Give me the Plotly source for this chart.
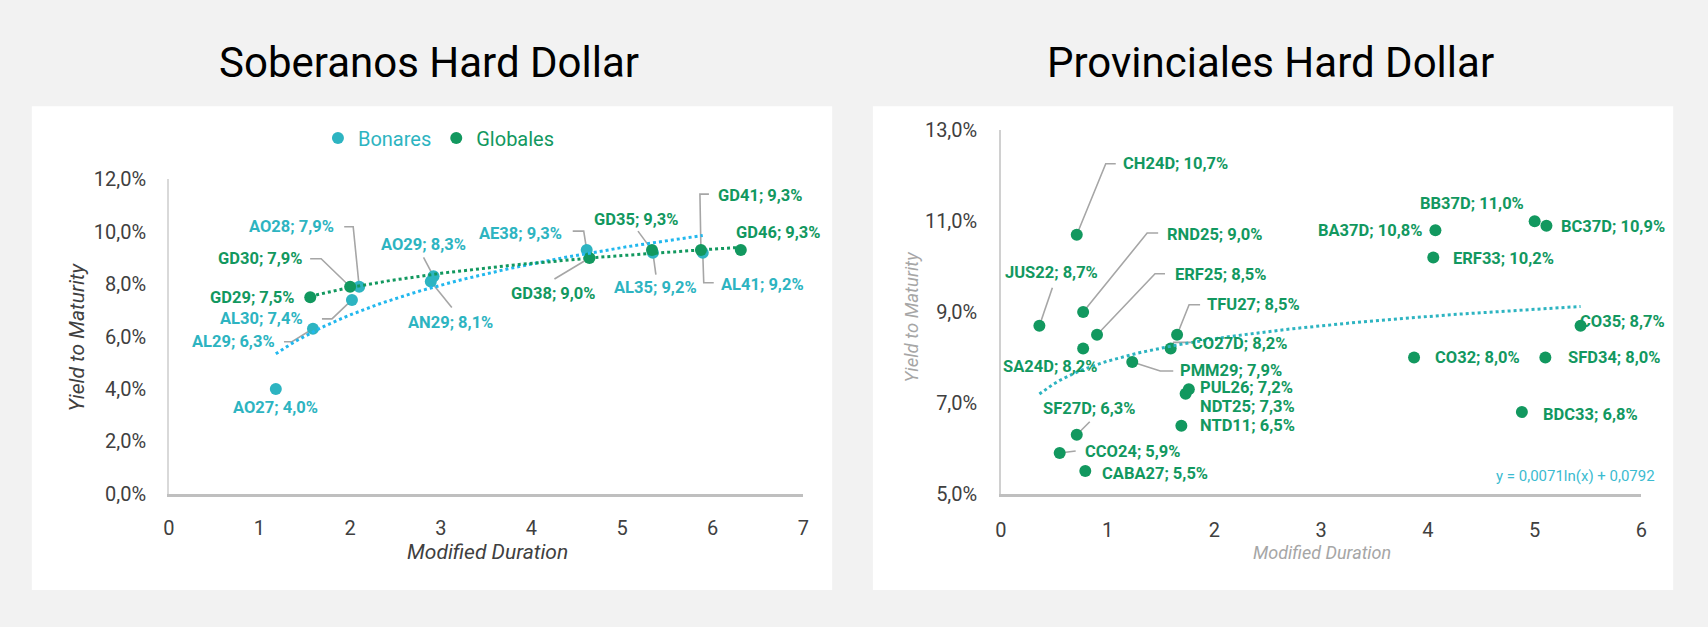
import numpy as np
import plotly.graph_objects as go

# Soberanos Hard Dollar - Bonares
bonares_names = ["AO27", "AL29", "AL30", "AO28", "AN29", "AO29", "AE38", "AL35", "AL41"]
bonares_dur = [1.18, 1.59, 2.02, 2.10, 2.89, 2.92, 4.61, 5.34, 5.89]
bonares_ytm = [4.0, 6.3, 7.4, 7.9, 8.1, 8.3, 9.3, 9.2, 9.2]

# Soberanos Hard Dollar - Globales
globales_names = ["GD29", "GD30", "GD38", "GD35", "GD41", "GD46"]
globales_dur = [1.56, 2.00, 4.64, 5.33, 5.87, 6.31]
globales_ytm = [7.5, 7.9, 9.0, 9.3, 9.3, 9.3]

# Provinciales Hard Dollar
prov_names = ["CH24D", "RND25", "JUS22", "ERF25", "SA24D", "TFU27", "CO27D", "PMM29",
              "PUL26", "NDT25", "NTD11", "SF27D", "CCO24", "CABA27", "BA37D", "BB37D",
              "BC37D", "ERF33", "CO35", "CO32", "SFD34", "BDC33"]
prov_dur = [0.71, 0.77, 0.36, 0.90, 0.77, 1.65, 1.59, 1.23,
            1.73, 1.76, 1.69, 0.71, 0.55, 0.79, 4.07, 5.00,
            5.11, 4.05, 5.43, 3.87, 5.10, 4.88]
prov_ytm = [10.7, 9.0, 8.7, 8.5, 8.2, 8.5, 8.2, 7.9,
            7.2, 7.3, 6.5, 6.3, 5.9, 5.5, 10.8, 11.0,
            10.9, 10.2, 8.7, 8.0, 8.0, 6.8]

# trendline shown on the provincial chart (Excel log fit)
prov_trend_a = 0.0071
prov_trend_b = 0.0792
prov_trend_label = "y = 0,0071ln(x) + 0,0792"

TEAL = "#2DB4C1"
GREEN = "#12985F"
SKY = "#22B8EE"
LEADER = "#a6a6a6"
W, H = 1708, 627

# label centre offsets from the point, in pixels (dx right, dy down)
label_pos = {
    "AO27": (0, 19), "AL29": (-79, 13), "AL30": (-90, 19), "AO28": (-68, -60),
    "AN29": (20, 41), "AO29": (-10, -32), "AE38": (-66, -17), "AL35": (3, 35),
    "AL41": (60, 32), "GD29": (-58, 0), "GD30": (-90, -28), "GD38": (-36, 36),
    "GD35": (-15, -31), "GD41": (60, -55), "GD46": (38, -18),
    "CH24D": (99, -71), "RND25": (132, -78), "JUS22": (12, -53), "ERF25": (123, -60),
    "SA24D": (-33, 18), "TFU27": (76, -30), "CO27D": (69, -5), "PMM29": (99, 8),
    "PUL26": (61, -6), "NDT25": (59, 17), "NTD11": (66, 0), "SF27D": (13, -26),
    "CCO24": (73, -1), "CABA27": (70, 2), "BA37D": (-65, 0), "BB37D": (-63, -18),
    "BC37D": (67, 1), "ERF33": (70, 1), "CO35": (42, -4), "CO32": (63, 0),
    "SFD34": (69, 0), "BDC33": (69, 2),
}

# leader lines: start next to the label, elbow, then to the point (pixels, dy down)
leaders = {
    "AL29": [(-29, 13), (-21, 13)], "AL30": [(-30, 19), (-20, 19)],
    "GD30": [(-40, -28), (-29, -28)], "AO28": [(-15, -60), (-6, -60)],
    "AO29": [(-10, -19)], "AN29": [(21, 26)], "AE38": [(-14, -19), (-3, -19)],
    "GD38": [(-35, 21)], "GD35": [(-14, -19)], "AL35": [(3, 22)],
    "GD41": [(8, -56), (-1, -56)], "AL41": [(11, 30), (1, 30)],
    "CH24D": [(39, -71), (29, -71)], "RND25": [(75, -79), (64, -79)],
    "JUS22": [(13, -38)], "ERF25": [(68, -61), (58, -61)],
    "TFU27": [(23, -30), (12, -30)], "CO27D": [(21, -6), (3, -6)],
    "PMM29": [(41, 9), (28, 9)], "SF27D": [(13, -13)], "CCO24": [(16, -2)],
}


def pct(v):
    return f"{v:.1f}%".replace(".", ",")


def px(x, y):
    return x / W, 1 - y / H


def log_fit(dur, ytm):
    a, b = np.polyfit(np.log(dur), np.array(ytm) / 100, 1)
    return a, b


def trend_curve(dur, a, b):
    xs = np.linspace(min(dur), max(dur), 80)
    return xs, a * np.log(xs) + b


fig = go.Figure()

# markers
fig.add_trace(go.Scatter(
    x=bonares_dur, y=np.array(bonares_ytm) / 100, mode="markers",
    marker=dict(color=TEAL, size=12),
    name=f"<span style='color:{TEAL}'>Bonares</span>", xaxis="x", yaxis="y"))
fig.add_trace(go.Scatter(
    x=globales_dur, y=np.array(globales_ytm) / 100, mode="markers",
    marker=dict(color=GREEN, size=12),
    name=f"<span style='color:{GREEN}'>Globales</span>", xaxis="x", yaxis="y"))
fig.add_trace(go.Scatter(
    x=prov_dur, y=np.array(prov_ytm) / 100, mode="markers",
    marker=dict(color=GREEN, size=12), showlegend=False, xaxis="x2", yaxis="y2"))

# trendlines
a, b = log_fit(bonares_dur, bonares_ytm)
xs, ys = trend_curve(bonares_dur, a, b)
fig.add_trace(go.Scatter(x=xs, y=ys, mode="lines", line=dict(color=SKY, width=3, dash="dot"),
                         showlegend=False, hoverinfo="skip", xaxis="x", yaxis="y"))
a, b = log_fit(globales_dur, globales_ytm)
xs, ys = trend_curve(globales_dur, a, b)
fig.add_trace(go.Scatter(x=xs, y=ys, mode="lines", line=dict(color=GREEN, width=3, dash="dot"),
                         showlegend=False, hoverinfo="skip", xaxis="x", yaxis="y"))
xs, ys = trend_curve(prov_dur, prov_trend_a, prov_trend_b)
fig.add_trace(go.Scatter(x=xs, y=ys, mode="lines", line=dict(color=TEAL, width=3, dash="dot"),
                         showlegend=False, hoverinfo="skip", xaxis="x2", yaxis="y2"))

# data labels and leader lines
annotations = []
shapes = []
series = [
    (bonares_names, bonares_dur, bonares_ytm, TEAL, "x", "y"),
    (globales_names, globales_dur, globales_ytm, GREEN, "x", "y"),
    (prov_names, prov_dur, prov_ytm, GREEN, "x2", "y2"),
]
for names, dur, ytm, color, xr, yr in series:
    for n, d, v in zip(names, dur, ytm):
        dx, dy = label_pos[n]
        annotations.append(dict(x=d, y=v / 100, xref=xr, yref=yr, text=f"<b>{n}; {pct(v)}</b>",
                                showarrow=False, xshift=dx, yshift=-dy,
                                font=dict(size=16.5, color=color, family="Roboto")))
        if n in leaders:
            pts = leaders[n] + [(0, 0)]
            path = "M " + " L ".join(f"{p[0]},{-p[1]}" for p in pts)
            shapes.append(dict(type="path", xref=xr, yref=yr, xsizemode="pixel",
                               ysizemode="pixel", xanchor=d, yanchor=v / 100, path=path,
                               line=dict(color=LEADER, width=1.6), layer="below"))

# titles and axis titles
for text, (x, y), size, color, angle in [
    ("Soberanos Hard Dollar", (426, 52), 42, "#000000", 0),
    ("Provinciales Hard Dollar", (1273, 53), 42, "#000000", 0),
    ("<i>Yield to Maturity</i>", (72, 338), 21, "#404040", -90),
    ("<i>Modified Duration</i>", (485, 561), 21, "#404040", 0),
    ("<i>Yield to Maturity</i>", (912, 317), 18.5, "#a6a6a6", -90),
    ("<i>Modified Duration</i>", (1325, 562), 18, "#a6a6a6", 0),
]:
    fx, fy = px(x, y)
    annotations.append(dict(x=fx, y=fy, xref="paper", yref="paper", text=text, showarrow=False,
                            textangle=angle, font=dict(size=size, color=color, family="Roboto"),
                            xanchor="center", yanchor="middle"))

fx, fy = px(1663, 482)
annotations.append(dict(x=fx, y=fy, xref="paper", yref="paper", text=prov_trend_label,
                        showarrow=False, xanchor="right", yanchor="middle",
                        font=dict(size=15, color="#3BBBD0", family="Roboto")))

# white panels
for x0, x1 in [(26, 832), (873, 1679)]:
    p0 = px(x0, 601)
    p1 = px(x1, 98)
    shapes.append(dict(type="rect", xref="paper", yref="paper", x0=p0[0], y0=p0[1],
                       x1=p1[0], y1=p1[1], fillcolor="white", line=dict(width=0), layer="below"))

axis_common = dict(showgrid=False, zeroline=False, showline=True, ticks="",
                   tickfont=dict(size=20, color="#404040", family="Roboto"))

fig.update_layout(
    width=W, height=H,
    margin=dict(l=0, r=0, t=0, b=0),
    paper_bgcolor="#f2f2f2",
    plot_bgcolor="white",
    separators=",.",
    font=dict(family="Roboto", color="#404040"),
    showlegend=True,
    legend=dict(orientation="h", x=436 / W, y=1 - 131 / H, xanchor="center", yanchor="middle",
                font=dict(size=20, family="Roboto"), bgcolor="rgba(0,0,0,0)",
                itemwidth=30, tracegroupgap=0),
    xaxis=dict(domain=[164 / W, 803 / W], range=[0, 7], dtick=1, anchor="y",
               linecolor="#bfbfbf", linewidth=2.5, ticklabelstandoff=14, **axis_common),
    yaxis=dict(domain=[1 - 501 / H, 1 - 174 / H], range=[0, 0.12], dtick=0.02, tickformat=".1%",
               anchor="x", linecolor="#d9d9d9", linewidth=1.5, ticklabelstandoff=17, **axis_common),
    xaxis2=dict(domain=[1002 / W, 1647 / W], range=[0, 6], dtick=1, anchor="y2",
                linecolor="#bfbfbf", linewidth=2.5, ticklabelstandoff=16, **axis_common),
    yaxis2=dict(domain=[1 - 501 / H, 1 - 123 / H], range=[0.05, 0.13], tick0=0.05, dtick=0.02,
                tickformat=".1%", anchor="x2", linecolor="#d0d0d0", linewidth=1.5,
                ticklabelstandoff=18, **axis_common),
    annotations=annotations,
    shapes=shapes,
)

fig.write_html("out.html", config={"displayModeBar": False},
               post_script="document.body.style.margin='0';document.body.style.overflow='hidden';")
